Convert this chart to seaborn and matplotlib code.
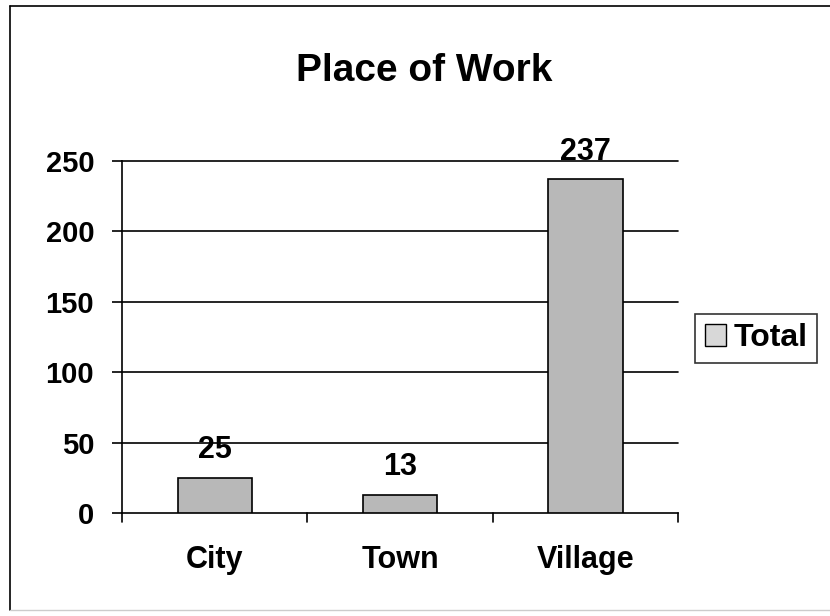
import matplotlib
matplotlib.use("Agg")
import matplotlib.pyplot as plt
import seaborn as sns
import pandas as pd
from matplotlib.lines import Line2D
from matplotlib.patches import Patch

places = ["City", "Town", "Village"]
totals = [25, 13, 237]
yticks = [0, 50, 100, 150, 200, 250]

df = pd.DataFrame({"place": places, "total": totals})

sns.set_style("white")
plt.rcParams['font.family'] = ['Liberation Sans', 'DejaVu Sans']
plt.rcParams['font.weight'] = 'bold'
plt.rcParams['text.color'] = 'black'
plt.rcParams['xtick.color'] = 'black'
plt.rcParams['ytick.color'] = 'black'

fig = plt.figure(figsize=(8.3, 6.16), dpi=100)
ax = fig.add_axes([0.147, 0.167, 0.670, 0.572])

sns.barplot(data=df, x="place", y="total", color="#b8b8b8", width=0.4,
            edgecolor="black", linewidth=1.2, saturation=1, ax=ax, zorder=3)

ax.set_ylim(0, 250)
ax.set_xlim(-0.5, 2.5)
ax.set_yticks(yticks)
ax.set_yticklabels([str(v) for v in yticks], fontsize=21, fontweight='bold')
ax.set_xticks([0, 1, 2])
ax.set_xticklabels(places, fontsize=22, fontweight='bold')
ax.tick_params(axis='x', length=0, pad=23)
ax.tick_params(axis='y', length=7, width=1.2, color='black', direction='out', pad=13, left=True)
ax.set_xlabel("")
ax.set_ylabel("")

# horizontal gridlines
for v in yticks[1:]:
    ax.axhline(v, color="black", linewidth=1.2, zorder=1, clip_on=False)

# category separator ticks on x axis
for b in [-0.5, 0.5, 1.5, 2.5]:
    ax.plot([b, b], [0, -0.025], transform=ax.get_xaxis_transform(),
            color="black", linewidth=1.2, clip_on=False)

for s in ["top", "right"]:
    ax.spines[s].set_visible(False)
ax.spines["left"].set_color("black")
ax.spines["left"].set_linewidth(1.2)
ax.spines["bottom"].set_color("black")
ax.spines["bottom"].set_linewidth(1.2)

for i, v in enumerate(totals):
    ax.annotate(str(v), (i, v), xytext=(0, 14), textcoords="offset points",
                ha="center", va="baseline", fontsize=22, fontweight='bold',
                annotation_clip=False, zorder=5)

fig.text(0.511, 0.868, "Place of Work", ha="center", va="baseline", fontsize=28, fontweight='bold')

leg = fig.legend(handles=[Patch(facecolor="#d8d8d8", edgecolor="black", label="Total")],
                 loc="center", bbox_to_anchor=(0.911, 0.451), frameon=True,
                 prop={'size': 23, 'weight': 'bold'}, handlelength=0.65, handleheight=0.65,
                 handletextpad=0.25, borderpad=0.3, borderaxespad=0, fancybox=False)
leg.get_frame().set_edgecolor("black")
leg.get_frame().set_linewidth(1.2)

# outer chart border
fig.add_artist(Line2D([0.012, 1.0], [0.99, 0.99], color="black", linewidth=1.2))
fig.add_artist(Line2D([0.012, 0.012], [0.01, 0.99], color="black", linewidth=1.2))
fig.add_artist(Line2D([0.012, 1.0], [0.01, 0.01], color="#cccccc", linewidth=1.0))

fig.savefig("out.png", dpi=100)
